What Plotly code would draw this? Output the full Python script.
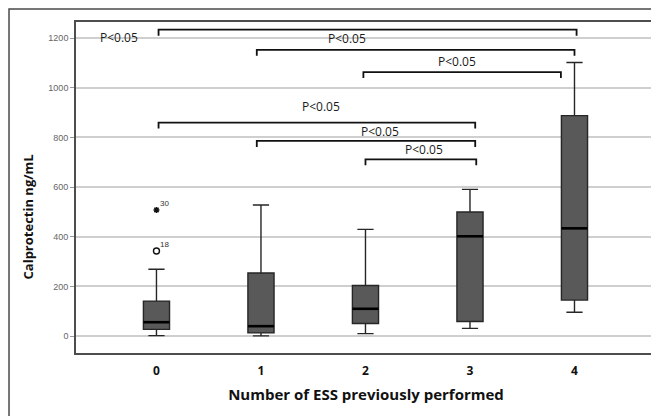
import plotly.graph_objects as go

# ---- data ----
categories = [0, 1, 2, 3, 4]
q1 = [27, 13, 51, 59, 145]
median = [56, 40, 110, 402, 434]
q3 = [141, 254, 204, 500, 888]
lower_whisker = [2, 1, 10, 31, 96]
upper_whisker = [269, 528, 430, 591, 1102]

outlier_x = [0]
outlier_y = [343]
outlier_label = ["18"]
extreme_x = [0]
extreme_y = [508]
extreme_label = ["30"]

bracket_x0 = [0.02, 0.96, 1.98, 0.02, 0.96, 2.0]
bracket_x1 = [4.02, 4.0, 3.87, 3.05, 3.05, 3.06]
bracket_y = [1234, 1153, 1063, 860, 786, 712]
bracket_drop = 24
label_x = [-0.36, 1.82, 2.88, 1.57, 2.14, 2.56]
label_y = [1201, 1197, 1106, 923, 824, 753]
label_text = ["P<0.05"] * 6

y_ticks = [0, 200, 400, 600, 800, 1000, 1200]
x_title = "Number of ESS previously performed"
y_title = "Calprotectin ng/mL"

box_w = 0.25

fig = go.Figure()

fig.add_trace(go.Box(
    x=categories, q1=q1, median=median, q3=q3,
    lowerfence=lower_whisker, upperfence=upper_whisker,
    width=box_w, whiskerwidth=0.62,
    fillcolor="#595959",
    line=dict(color="#262626", width=1.4),
    boxpoints=False, showlegend=False, hoverinfo="skip",
))

# thicker median lines
mx, my = [], []
for c, m in zip(categories, median):
    mx += [c - box_w / 2, c + box_w / 2, None]
    my += [m, m, None]
fig.add_trace(go.Scatter(x=mx, y=my, mode="lines",
                         line=dict(color="#000000", width=2.6),
                         showlegend=False, hoverinfo="skip"))

# outliers
fig.add_trace(go.Scatter(x=outlier_x, y=outlier_y, mode="markers",
                         marker=dict(symbol="circle-open", size=6,
                                     line=dict(color="#111", width=1.4), color="#111"),
                         showlegend=False, hoverinfo="skip"))
fig.add_trace(go.Scatter(x=extreme_x, y=extreme_y, mode="markers",
                         marker=dict(symbol="asterisk-open", size=5,
                                     line=dict(color="#111", width=1.5), color="#111"),
                         showlegend=False, hoverinfo="skip"))

annotations = []
for xs, ys, t in [(outlier_x, outlier_y, outlier_label), (extreme_x, extreme_y, extreme_label)]:
    for xv, yv, tv in zip(xs, ys, t):
        annotations.append(dict(x=xv, y=yv, text=tv, showarrow=False,
                                xanchor="left", yanchor="bottom", xshift=2, yshift=0,
                                font=dict(family="Liberation Sans, Arial", size=8, color="#333")))

# significance brackets
bx, by = [], []
for x0, x1, yv in zip(bracket_x0, bracket_x1, bracket_y):
    bx += [x0, x0, x1, x1, None]
    by += [yv - bracket_drop, yv, yv, yv - bracket_drop, None]
fig.add_trace(go.Scatter(x=bx, y=by, mode="lines",
                         line=dict(color="#111111", width=1.8),
                         showlegend=False, hoverinfo="skip"))

for xv, yv, tv in zip(label_x, label_y, label_text):
    annotations.append(dict(x=xv, y=yv, text=tv, showarrow=False,
                            xanchor="center", yanchor="middle",
                            font=dict(family="Open Sans, Liberation Sans", size=12, color="#1a1a1a")))

# y-axis title (placed off-centre as in the reference)
annotations.append(dict(xref="paper", yref="paper", x=-0.0836, y=0.411,
                        text=f"<b>{y_title}</b>", textangle=-90, showarrow=False,
                        xanchor="center", yanchor="middle",
                        font=dict(family="Open Sans, Liberation Sans", size=13, color="#111")))

# outer frame
shapes = [dict(type="rect", xref="paper", yref="paper",
               x0=-0.1155, x1=1.2, y0=-0.4, y1=1.0393,
               line=dict(color="#4a4a4a", width=1.5), fillcolor="rgba(0,0,0,0)", layer="below")]

# page body has an 8px default margin; margins compensate so the plot area sits at 76..656 x 22..353
fig.update_layout(
    width=659, height=416,
    margin=dict(l=68, r=11, t=14, b=71, autoexpand=False),
    paper_bgcolor="white", plot_bgcolor="white",
    showlegend=False,
    annotations=annotations,
    shapes=shapes,
    xaxis=dict(
        automargin=False,
        range=[-0.77, 4.78], tickmode="array", tickvals=categories,
        ticktext=[f"<b>{c}</b>" for c in categories],
        tickfont=dict(family="Open Sans, Liberation Sans", size=12, color="#111"),
        showgrid=False, zeroline=False,
        showline=True, mirror=True, linecolor="#4d4d4d", linewidth=1.6,
        ticks="", ticklabelstandoff=6,
        title=dict(text=f"<b>{x_title}</b>", standoff=11,
                   font=dict(family="Open Sans, Liberation Sans", size=15, color="#111")),
    ),
    yaxis=dict(
        automargin=False,
        range=[-68, 1265], tickmode="array", tickvals=y_ticks,
        tickfont=dict(family="Liberation Sans, Arial", size=9, color="#666"),
        showgrid=True, gridcolor="#cfcfcf", gridwidth=1.5, zeroline=False,
        showline=True, mirror=True, linecolor="#4d4d4d", linewidth=1.6,
        ticks="outside", ticklen=4, tickcolor="#999", tickwidth=1,
    ),
)

fig.write_html("out.html")
